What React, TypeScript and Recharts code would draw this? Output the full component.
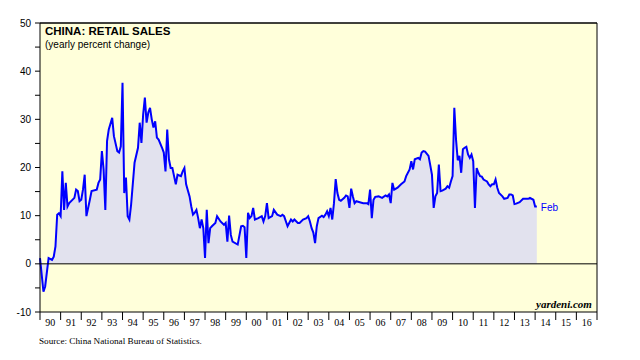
import React from 'react';
import { ComposedChart, Area, XAxis, YAxis, CartesianGrid, ReferenceLine, LabelList } from 'recharts';

// months since January 1990
const months = [
  0, 2, 3, 5, 7, 8, 9, 10, 11, 12, 13, 14, 15, 16, 17, 20, 21, 22, 23, 24, 25, 26, 27, 29, 30,
  33, 34, 35, 36, 37, 38, 39, 40, 42, 43, 45, 46, 47, 48, 49, 50, 51, 52, 53, 55, 57, 58, 59, 60,
  61, 62, 63, 64, 65, 66, 67, 68, 69, 71, 72, 73, 74, 75, 76, 77, 79, 80, 82, 83, 84, 85, 87, 88,
  89, 90, 91, 92, 93, 94, 95, 96, 97, 98, 99, 100, 102, 103, 105, 107, 108, 109, 110, 111, 112,
  115, 117, 118, 119, 120, 121, 122, 123, 124, 125, 127, 129, 130, 131, 132, 133, 135, 136, 138,
  140, 141, 142, 144, 146, 147, 148, 150, 151, 153, 155, 156, 157, 158, 159, 160, 161, 162, 164,
  165, 166, 167, 168, 169, 170, 171, 172, 173, 174, 175, 177, 178, 179, 180, 181, 182, 183, 184,
  186, 188, 190, 191, 192, 193, 194, 195, 197, 199, 201, 202, 203, 204, 205, 206, 208, 210, 212,
  213, 215, 216, 217, 218, 220, 221, 222, 223, 224, 226, 227, 228, 229, 230, 231, 232, 233, 234,
  236, 237, 238, 239, 240, 241, 242, 243, 244, 245, 246, 247, 248, 249, 250, 251, 252, 253, 254,
  255, 256, 257, 258, 260, 261, 262, 263, 264, 265, 266, 267, 269, 270, 272, 273, 274, 275, 276,
  277, 279, 281, 282, 284, 285, 287, 288, 289,
];

// yearly percent change
const sales = [
  1.2, -5.8, -4.7, 1.2, 0.8, 1.5, 3.6, 10.2, 10.5, 9.9, 19.2, 11.2, 16.8, 11.9, 12.6, 13.7, 15.4, 15.1, 13.0, 13.3, 15.4, 18.5, 9.9, 13.3, 15.1,
  15.4, 16.8, 17.5, 23.4, 19.6, 11.2, 25.5, 27.9, 30.3, 26.5, 23.4, 23.1, 24.4, 37.6, 14.7, 17.9, 9.9, 9.2, 12.3, 21.0, 24.1, 29.3, 25.1, 31.0,
  34.5, 29.3, 31.4, 32.4, 30.0, 28.3, 29.6, 26.2, 25.8, 24.1, 23.1, 19.2, 27.9, 21.7, 19.9, 19.9, 16.5, 18.5, 18.2, 19.2, 19.9, 16.5, 14.0, 11.9,
  10.2, 10.6, 11.2, 9.5, 7.4, 9.2, 7.4, 1.2, 11.2, 4.3, 7.4, 7.8, 8.5, 9.9, 8.8, 8.1, 8.5, 4.6, 10.0, 6.0, 4.6,
  4.0, 7.8, 7.9, 7.6, 1.2, 10.6, 9.5, 9.9, 11.6, 9.2, 9.5, 9.9, 8.8, 9.9, 12.6, 9.5, 9.9, 11.2, 10.2,
  9.9, 10.2, 9.9, 7.8, 9.2, 8.8, 9.2, 8.5, 8.5, 9.2, 9.5, 9.9, 8.8, 7.4, 6.5, 4.3, 7.8, 9.5, 10.0,
  9.7, 10.2, 10.9, 9.9, 11.6, 9.2, 12.6, 17.6, 14.7, 13.3, 13.1, 13.7, 14.2, 14.0, 11.6, 15.6, 14.0, 12.6, 13.0,
  12.8, 12.6, 12.6, 12.4, 15.4, 9.5, 13.3, 13.9, 14.0, 13.7, 14.2, 14.0, 14.4, 12.6, 16.8, 15.4, 15.8, 16.5, 17.1,
  18.2, 19.6, 21.3, 19.6, 21.7, 22.0, 21.7, 23.1, 23.4, 23.3, 22.4, 20.5, 18.5, 11.6, 14.0, 14.7, 20.6, 15.1, 15.2,
  15.6, 16.1, 15.8, 17.1, 18.2, 32.4, 25.8, 21.5, 22.4, 18.9, 23.8, 24.1, 24.3, 22.7, 22.0, 22.7, 21.3, 11.6, 19.9,
  18.9, 18.2, 18.1, 17.5, 17.1, 16.5, 16.1, 16.5, 16.5, 17.5, 15.8, 14.7, 14.0, 13.5, 13.7, 14.4, 14.4, 14.2, 12.4,
  12.5, 12.8, 13.5, 13.5, 13.5, 13.7, 13.3, 11.9, 11.9,
];

const yearLabels = ['90', '91', '92', '93', '94', '95', '96', '97', '98', '99', '00', '01', '02', '03',
  '04', '05', '06', '07', '08', '09', '10', '11', '12', '13', '14', '15', '16'];
const xTicks = [0, ...yearLabels.map((_, i) => (i + 1) * 12)];
const yTicks = [-10, -5, 0, 5, 10, 15, 20, 25, 30, 35, 40, 45, 50];
const lastLabel = 'Feb';

const data = months.map((m, i) => ({ m, v: sales[i] }));

const PLOT_W = 557;
const HALF_YEAR = PLOT_W / yearLabels.length / 2;

const XTick = (props: any) => {
  const { x, y, index } = props;
  const label = yearLabels[index];
  return (
    <g>
      <line x1={x} x2={x} y1={y} y2={y + 8} stroke="#000" strokeWidth={1} />
      {label !== undefined && (
        <text x={x + HALF_YEAR} y={y + 14} textAnchor="middle" fontSize={10}
          fontFamily="'Liberation Serif', serif" fill="#000">{label}</text>
      )}
    </g>
  );
};

const LeftTick = (props: any) => {
  const { x, y, payload } = props;
  const v = payload.value;
  return (
    <g>
      <line x1={x - 5} x2={x} y1={y} y2={y} stroke="#000" strokeWidth={1} />
      {v % 10 === 0 && (
        <text x={x - 9} y={y + 3.5} textAnchor="end" fontSize={10}
          fontFamily="'Liberation Sans', Arial, sans-serif" fill="#000">{v}</text>
      )}
    </g>
  );
};

const RightTick = (props: any) => {
  const { x, y, payload } = props;
  const v = payload.value;
  return (
    <g>
      <line x1={x} x2={x + 5} y1={y} y2={y} stroke="#000" strokeWidth={1} />
      {v % 10 === 0 && (
        <text x={x + 8} y={y + 3.5} textAnchor="start" fontSize={10}
          fontFamily="'Liberation Sans', Arial, sans-serif" fill="#000">{v}</text>
      )}
    </g>
  );
};

const EndLabel = (props: any) => {
  const { x, y, index } = props;
  if (index !== data.length - 1) return null;
  return (
    <text x={x + 4} y={y + 4.5} fontSize={10} fill="#0000FF"
      fontFamily="'Liberation Sans', Arial, sans-serif">{lastLabel}</text>
  );
};

export default function App() {
  return (
    <div style={{ position: 'absolute', left: 0, top: 0, width: 640, height: 360, background: '#fff' }}>
      <ComposedChart width={640} height={360} data={data}
        margin={{ top: 23, right: 0, bottom: 28, left: 0 }}>
        <CartesianGrid horizontal={false} vertical={false} fill="#FFFFDA" yAxisId="left" />
        <XAxis dataKey="m" type="number" domain={[0, 324]} ticks={xTicks} interval={0}
          tickSize={0} tickMargin={0} tick={<XTick />} height={20}
          axisLine={{ stroke: '#000', strokeWidth: 1 }} />
        <YAxis yAxisId="left" orientation="left" width={40} domain={[-10, 50]} ticks={yTicks}
          interval={0} tickSize={0} tickMargin={0} tick={<LeftTick />}
          axisLine={{ stroke: '#000', strokeWidth: 1 }} />
        <YAxis yAxisId="right" orientation="right" width={43} domain={[-10, 50]} ticks={yTicks}
          interval={0} tickSize={0} tickMargin={0} tick={<RightTick />}
          axisLine={{ stroke: '#000', strokeWidth: 1 }} />
        <Area yAxisId="left" type="linear" dataKey="v" stroke="#0000FF" strokeWidth={2}
          fill="#E2E2EE" fillOpacity={1} isAnimationActive={false} dot={false} activeDot={false}>
          <LabelList dataKey="v" content={<EndLabel />} />
        </Area>
        <ReferenceLine yAxisId="left" y={0} stroke="#000" strokeWidth={1} />
        <ReferenceLine yAxisId="left" y={50} stroke="#000" strokeWidth={1.5} />
      </ComposedChart>
      <div style={{ position: 'absolute', left: 45, top: 25, fontFamily: "'Liberation Sans', Arial, sans-serif",
        fontWeight: 'bold', fontSize: 11.5, color: '#000', whiteSpace: 'nowrap' }}>CHINA: RETAIL SALES</div>
      <div style={{ position: 'absolute', left: 45, top: 39, fontFamily: "'Liberation Sans', Arial, sans-serif",
        fontSize: 10, color: '#000', whiteSpace: 'nowrap' }}>(yearly percent change)</div>
      <div style={{ position: 'absolute', left: 536, top: 298, fontFamily: "'Liberation Serif', serif",
        fontWeight: 'bold', fontStyle: 'italic', fontSize: 11, color: '#000', whiteSpace: 'nowrap' }}>yardeni.com</div>
      <div style={{ position: 'absolute', left: 39, top: 336, fontFamily: "'Liberation Serif', serif",
        fontSize: 9.2, color: '#000', whiteSpace: 'nowrap' }}>Source: China National Bureau of Statistics.</div>
    </div>
  );
}
